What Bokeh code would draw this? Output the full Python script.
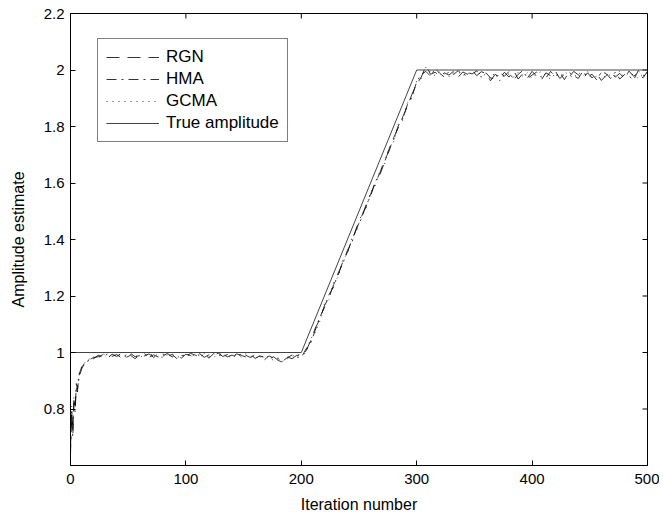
from bokeh.plotting import figure
from bokeh.models import FixedTicker, Legend, LegendItem, Range1d
from bokeh.embed import file_html
from bokeh.resources import INLINE

# ---------------- data ----------------
iters = [0, 1, 2, 3, 4, 5, 6, 7, 8, 10, 12, 14, 16, 18, 20] + list(range(24, 501, 4))

rgn_start = [0.66, 0.80, 0.72, 0.83, 0.80, 0.88, 0.86, 0.91, 0.93, 0.95, 0.96, 0.97, 0.975, 0.978, 0.982]
rgn_flat1 = [0.985, 0.992, 0.980, 0.994, 0.986, 0.996, 0.982, 0.990, 0.978, 0.993,
             0.988, 0.995, 0.983, 0.991, 0.987, 0.997, 0.984, 0.992, 0.980, 0.994,
             0.989, 0.985, 0.996, 0.983, 0.992, 0.988, 0.998, 0.986, 0.993, 0.981,
             0.995, 0.990, 0.984, 0.994, 0.979, 0.988, 0.983, 0.976, 0.985, 0.972,
             0.965, 0.984, 0.978, 0.990]
rgn_ramp = [0.988, 1.005, 1.040, 1.085, 1.118, 1.165, 1.195, 1.240, 1.275, 1.322,
            1.355, 1.400, 1.438, 1.480, 1.515, 1.560, 1.598, 1.635, 1.680, 1.712,
            1.760, 1.795, 1.835, 1.872, 1.915, 1.950]
rgn_flat2 = [1.975, 2.015, 1.985, 1.992, 1.978, 1.990, 1.982, 1.996, 1.975, 1.993,
             1.985, 2.000, 1.980, 1.994, 1.988, 1.962, 1.985, 1.970, 1.992, 1.975,
             1.998, 1.968, 1.988, 1.972, 1.995, 1.978, 1.965, 1.990, 1.980, 1.997,
             1.970, 1.985, 1.975, 1.995, 1.983, 1.968, 1.990, 1.972, 1.986, 1.963,
             1.980, 1.993, 1.975, 1.988, 1.970, 1.996, 1.978, 1.990, 1.972, 1.995]

hma_start = [0.64, 0.78, 0.70, 0.82, 0.79, 0.89, 0.87, 0.90, 0.92, 0.945, 0.958, 0.968, 0.972, 0.98, 0.978]
hma_flat1 = [0.990, 0.983, 0.995, 0.986, 0.993, 0.981, 0.991, 0.997, 0.985, 0.989,
             0.996, 0.982, 0.992, 0.984, 0.995, 0.987, 0.993, 0.979, 0.990, 0.986,
             0.997, 0.991, 0.984, 0.994, 0.980, 0.996, 0.989, 0.993, 0.985, 0.991,
             0.983, 0.995, 0.990, 0.982, 0.992, 0.986, 0.974, 0.988, 0.980, 0.978,
             0.970, 0.982, 0.991, 0.984]
hma_ramp = [0.982, 1.012, 1.032, 1.078, 1.125, 1.158, 1.205, 1.232, 1.282, 1.315,
            1.362, 1.392, 1.445, 1.472, 1.522, 1.552, 1.605, 1.628, 1.672, 1.720,
            1.752, 1.802, 1.828, 1.878, 1.908, 1.958]
hma_flat2 = [1.985, 1.995, 1.978, 2.005, 1.988, 1.975, 1.995, 1.984, 1.998, 1.980,
             1.992, 1.986, 1.997, 1.975, 1.990, 1.972, 1.968, 1.990, 1.978, 1.995,
             1.965, 1.985, 1.998, 1.970, 1.982, 1.993, 1.975, 1.972, 1.995, 1.978,
             1.990, 1.966, 1.992, 1.980, 1.970, 1.996, 1.976, 1.985, 1.965, 1.993,
             1.988, 1.970, 1.992, 1.968, 1.984, 1.978, 1.965, 1.998, 1.982, 1.975]

gcma_start = [0.68, 0.81, 0.74, 0.84, 0.81, 0.87, 0.88, 0.915, 0.935, 0.952, 0.962, 0.972, 0.977, 0.975, 0.984]
gcma_flat1 = [0.980, 0.995, 0.988, 0.983, 0.997, 0.989, 0.985, 0.993, 0.990, 0.981,
              0.994, 0.986, 0.998, 0.987, 0.982, 0.992, 0.995, 0.986, 0.983, 0.997,
              0.984, 0.993, 0.988, 0.996, 0.985, 0.982, 0.994, 0.997, 0.981, 0.990,
              0.992, 0.984, 0.996, 0.987, 0.985, 0.979, 0.990, 0.983, 0.972, 0.981,
              0.968, 0.978, 0.986, 0.993]
gcma_ramp = [0.992, 0.998, 1.048, 1.070, 1.110, 1.172, 1.188, 1.248, 1.268, 1.330,
             1.348, 1.408, 1.430, 1.488, 1.508, 1.568, 1.590, 1.642, 1.665, 1.725,
             1.745, 1.808, 1.822, 1.885, 1.900, 1.962]
gcma_flat2 = [1.970, 2.010, 1.992, 1.980, 1.995, 1.986, 1.976, 1.990, 1.992, 1.985,
              1.978, 1.996, 1.984, 1.990, 1.980, 1.970, 1.992, 1.962, 1.982, 1.986,
              1.975, 1.992, 1.978, 1.990, 1.970, 1.986, 1.995, 1.980, 1.968, 1.988,
              1.975, 1.994, 1.982, 1.972, 1.992, 1.978, 1.996, 1.970, 1.978, 1.990,
              1.972, 1.985, 1.980, 1.996, 1.975, 1.990, 1.982, 1.970, 1.986, 1.990]

rgn = rgn_start + rgn_flat1 + rgn_ramp + rgn_flat2
hma = hma_start + hma_flat1 + hma_ramp + hma_flat2
gcma = gcma_start + gcma_flat1 + gcma_ramp + gcma_flat2

true_x = [0, 200, 300, 500]
true_y = [1.0, 1.0, 2.0, 2.0]

x_ticks = [0, 100, 200, 300, 400, 500]
y_ticks = [0.8, 1.0, 1.2, 1.4, 1.6, 1.8, 2.0, 2.2]
x_labels = ["0", "100", "200", "300", "400", "500"]
y_labels = ["0.8", "1", "1.2", "1.4", "1.6", "1.8", "2", "2.2"]

# ---------------- figure ----------------
FONT = "Liberation Sans"
X0, X1, Y0, Y1 = 0, 500, 0.6, 2.2
FW, FH = 577, 452          # frame size in px
TICK = 5                   # tick length in px

p = figure(width=659, height=516, output_backend="svg", toolbar_location=None,
           x_range=Range1d(X0, X1), y_range=Range1d(Y0, Y1),
           min_border_left=70, min_border_right=12, min_border_top=13, min_border_bottom=51,
           background_fill_color="white", border_fill_color="white")
p.grid.visible = False
p.outline_line_color = "black"
p.outline_line_width = 1

for ax in (p.xaxis[0], p.yaxis[0]):
    ax.major_tick_in = TICK
    ax.major_tick_out = 0
    ax.minor_tick_in = 0
    ax.minor_tick_out = 0
    ax.axis_line_color = "black"
    ax.major_tick_line_color = "black"
    ax.major_label_text_font = FONT
    ax.major_label_text_font_size = "15px"
    ax.major_label_text_color = "black"
    ax.axis_label_text_font = FONT
    ax.axis_label_text_font_size = "16px"
    ax.axis_label_text_font_style = "normal"
    ax.axis_label_text_color = "black"

p.xaxis[0].ticker = FixedTicker(ticks=x_ticks)
p.yaxis[0].ticker = FixedTicker(ticks=y_ticks)
p.xaxis[0].axis_label = "Iteration number"
p.yaxis[0].axis_label = "Amplitude estimate"
p.xaxis[0].major_label_standoff = 8
p.xaxis[0].axis_label_standoff = 9
p.yaxis[0].major_label_standoff = 6
p.yaxis[0].axis_label_standoff = 14
p.xaxis[0].major_label_overrides = dict(zip(x_ticks, x_labels))
p.yaxis[0].major_label_overrides = dict(zip(y_ticks, y_labels))

# inward tick marks on the top and right edges of the box
dx = TICK * (X1 - X0) / FW
dy = TICK * (Y1 - Y0) / FH
p.segment(x0=x_ticks, y0=[Y1] * len(x_ticks), x1=x_ticks, y1=[Y1 - dy] * len(x_ticks),
          line_color="black", line_width=1)
p.segment(x0=[X1] * len(y_ticks), y0=y_ticks, x1=[X1 - dx] * len(y_ticks), y1=y_ticks,
          line_color="black", line_width=1)

# ---------------- lines ----------------
r_rgn = p.line(iters, rgn, line_color="black", line_width=0.8, line_dash="13 8")
r_hma = p.line(iters, hma, line_color="black", line_width=0.8, line_dash="10 5 2 5")
r_gcma = p.line(iters, gcma, line_color="black", line_width=0.8, line_dash="1 5")
r_true = p.line(true_x, true_y, line_color="#444444", line_width=1)

legend = Legend(items=[
    LegendItem(label="RGN", renderers=[r_rgn]),
    LegendItem(label="HMA", renderers=[r_hma]),
    LegendItem(label="GCMA", renderers=[r_gcma]),
    LegendItem(label="True amplitude", renderers=[r_true]),
], location=(27, 323))
legend.label_text_font = FONT
legend.label_text_font_size = "17px"
legend.label_text_color = "black"
legend.glyph_width = 53
legend.glyph_height = 20
legend.label_height = 20
legend.label_standoff = 7
legend.spacing = 2
legend.padding = 8
legend.margin = 0
legend.border_line_color = "black"
legend.border_line_width = 1
legend.background_fill_alpha = 1
p.add_layout(legend, "center")

open("out.html", "w").write(file_html(p, INLINE))
